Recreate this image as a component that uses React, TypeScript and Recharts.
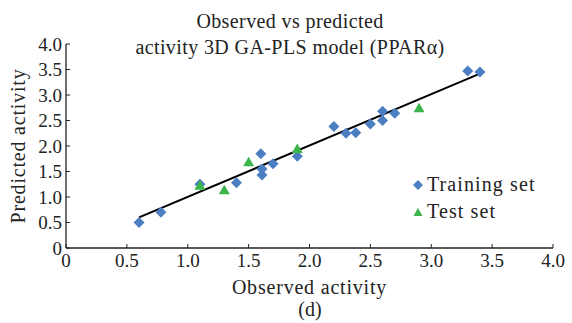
import React from 'react';
import { ScatterChart, Scatter, XAxis, YAxis, Label } from 'recharts';

const trainingObserved = [0.6, 0.78, 1.1, 1.4, 1.6, 1.61, 1.61, 1.7, 1.9, 2.2, 2.3, 2.38, 2.5, 2.6, 2.6, 2.7, 3.3, 3.4];
const trainingPredicted = [0.5, 0.7, 1.25, 1.28, 1.85, 1.55, 1.43, 1.65, 1.8, 2.38, 2.25, 2.26, 2.43, 2.68, 2.5, 2.64, 3.47, 3.45];
const testObserved = [1.1, 1.3, 1.5, 1.9, 2.9];
const testPredicted = [1.22, 1.13, 1.68, 1.94, 2.74];
const fitObserved = [0.6, 3.4];
const fitPredicted = [0.6, 3.42];
const ticks = [0, 0.5, 1.0, 1.5, 2.0, 2.5, 3.0, 3.5, 4.0];

const trainingData = trainingObserved.map((x, i) => ({ x, y: trainingPredicted[i] }));
const testData = testObserved.map((x, i) => ({ x, y: testPredicted[i] }));
const fitData = fitObserved.map((x, i) => ({ x, y: fitPredicted[i] }));

const BLUE = '#4C7FC2';
const GREEN = '#3CB54A';
const FONT = '"Liberation Serif", "Times New Roman", serif';

const Diamond = (props: any) => {
  const { cx, cy } = props;
  const r = 5.5;
  return <path d={`M${cx},${cy - r}L${cx + r},${cy}L${cx},${cy + r}L${cx - r},${cy}Z`} fill={BLUE} />;
};
const Triangle = (props: any) => {
  const { cx, cy } = props;
  return <path d={`M${cx},${cy - 5.5}L${cx + 5.5},${cy + 4}L${cx - 5.5},${cy + 4}Z`} fill={GREEN} />;
};
const NoShape = () => null;

const fmt = (v: number) => (v === 0 ? '0' : v.toFixed(1));
const tickStyle = { fontFamily: FONT, fontSize: 19, fill: '#222' };

export default function App() {
  return (
    <div style={{ position: 'absolute', left: 0, top: 0, width: 572, height: 323, background: '#fff', fontFamily: FONT, color: '#222' }}>
      <ScatterChart width={572} height={323} margin={{ top: 44, right: 19, bottom: 45, left: 6 }}>
        <XAxis
          type="number"
          dataKey="x"
          domain={[0, 4]}
          ticks={ticks}
          tickFormatter={fmt}
          tickSize={-4}
          tickMargin={10}
          height={30}
          stroke="#222"
          axisLine={{ stroke: '#222', strokeWidth: 1.3 }}
          tickLine={{ stroke: '#222' }}
          tick={tickStyle}
          interval={0}
        >
          <Label value="Observed activity" position="bottom" offset={2} style={{ fontFamily: FONT, fontSize: 20, fill: '#222', letterSpacing: 0.8 }} />
        </XAxis>
        <YAxis
          type="number"
          dataKey="y"
          domain={[0, 4]}
          ticks={ticks}
          tickFormatter={fmt}
          tickSize={-4}
          tickMargin={8}
          width={60}
          stroke="#222"
          axisLine={{ stroke: '#222', strokeWidth: 1.3 }}
          tickLine={{ stroke: '#222' }}
          tick={tickStyle}
          interval={0}
        >
          <Label value="Predicted activity" angle={-90} position="insideLeft" offset={12} style={{ fontFamily: FONT, fontSize: 20, fill: '#222', letterSpacing: 0.8, textAnchor: 'middle' }} />
        </YAxis>
        <Scatter data={fitData} line={{ stroke: '#000', strokeWidth: 2 }} shape={NoShape} isAnimationActive={false} />
        <Scatter data={trainingData} shape={Diamond} isAnimationActive={false} />
        <Scatter data={testData} shape={Triangle} isAnimationActive={false} />
      </ScatterChart>
      <div style={{ position: 'absolute', left: 0, width: 580, top: 8, textAlign: 'center', fontSize: 20, lineHeight: '26px', letterSpacing: 0.4 }}>
        Observed vs predicted<br />activity 3D GA-PLS model (PPARα)
      </div>
      <div style={{ position: 'absolute', left: 411, top: 171, fontSize: 20, lineHeight: '27px', letterSpacing: 1.1 }}>
        <div style={{ display: 'flex', alignItems: 'center' }}>
          <svg width={14} height={14} style={{ marginRight: 2 }}><path d="M7,2L12,7L7,12L2,7Z" fill={BLUE} /></svg>
          <span>Training set</span>
        </div>
        <div style={{ display: 'flex', alignItems: 'center' }}>
          <svg width={14} height={14} style={{ marginRight: 2 }}><path d="M7,3L11.5,11L2.5,11Z" fill={GREEN} /></svg>
          <span>Test set</span>
        </div>
      </div>
      <div style={{ position: 'absolute', left: 0, width: 620, top: 297, textAlign: 'center', fontSize: 20, lineHeight: '24px' }}>
        (d)
      </div>
    </div>
  );
}
